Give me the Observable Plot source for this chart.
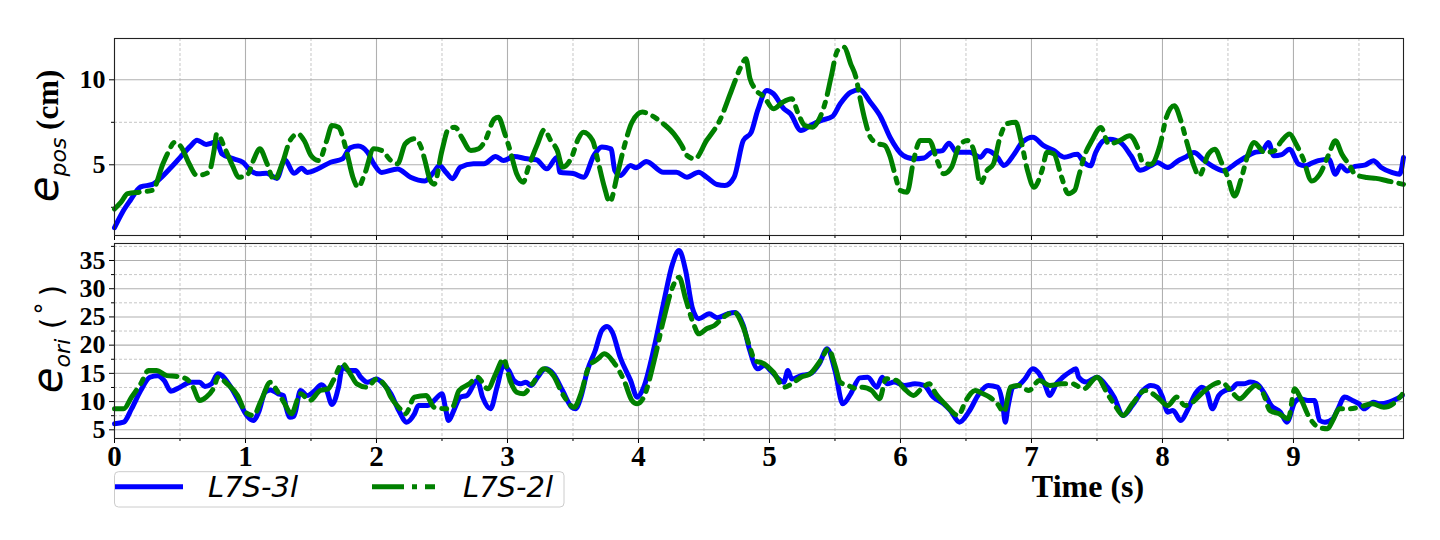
<!DOCTYPE html>
<html>
<head>
<meta charset="utf-8">
<script src="https://cdn.jsdelivr.net/npm/d3@7"></script>
<script src="https://cdn.jsdelivr.net/npm/@observablehq/plot@0.6"></script>
<style>
  html, body { margin: 0; padding: 0; background: #ffffff; }
  #wrap { position: relative; width: 1440px; height: 540px; overflow: hidden; }
  #top { position: absolute; left: 0; top: 0; }
  #bot { position: absolute; left: 0; top: 240px; }
  svg { overflow: visible; }
</style>
</head>
<body>
<div id="wrap"><div id="top"></div><div id="bot"></div></div>
<script>
// ---------- data: [time (s), value] ----------
const seriesNames = ["L7S-3l", "L7S-2l"];
const xMajorTicks = [0, 1, 2, 3, 4, 5, 6, 7, 8, 9];
const xMinorTicks = [0.5, 1.5, 2.5, 3.5, 4.5, 5.5, 6.5, 7.5, 8.5, 9.5];
const posMajorTicks = [5, 10];
const posMinorTicks = [2.5, 7.5];
const oriMajorTicks = [5, 10, 15, 20, 25, 30, 35];
const oriMinorTicks = [7.5, 12.5, 17.5, 22.5, 27.5, 32.5, 37.5];

const pos3l = [[0,1.3],[0.06,2.2],[0.12,2.9],[0.2,3.7],[0.29,3.85],[0.35,4.2],[0.42,4.75],[0.48,5.25],[0.58,6.1],[0.63,6.45],[0.7,6.2],[0.78,6.35],[0.82,5.65],[0.91,5.35],[0.98,5.15],[1.04,4.65],[1.1,4.47],[1.16,4.5],[1.24,4.2],[1.3,5.3],[1.37,4.5],[1.43,4.8],[1.47,4.55],[1.55,4.75],[1.65,5.15],[1.74,5.35],[1.8,6.0],[1.86,6.1],[1.93,5.75],[1.98,5.05],[2.04,4.55],[2.16,4.75],[2.26,4.27],[2.37,4.05],[2.44,4.6],[2.48,4.96],[2.53,4.56],[2.58,4.18],[2.64,4.86],[2.74,5.06],[2.82,5.06],[2.91,5.49],[2.97,5.25],[3.05,5.49],[3.15,5.35],[3.22,5.3],[3.3,4.76],[3.38,5.45],[3.4,4.56],[3.51,4.47],[3.58,4.27],[3.66,5.55],[3.72,6.04],[3.79,5.94],[3.82,4.66],[3.86,4.37],[3.94,4.96],[3.98,4.82],[4.06,5.19],[4.19,4.56],[4.29,4.56],[4.37,4.27],[4.46,4.56],[4.52,4.27],[4.6,3.84],[4.66,3.78],[4.73,4.27],[4.8,6.43],[4.86,6.9],[4.91,8.2],[4.98,9.37],[5.03,9.18],[5.11,8.29],[5.16,8.0],[5.24,7.02],[5.31,7.3],[5.39,7.6],[5.48,7.84],[5.54,8.59],[5.62,9.27],[5.69,9.41],[5.77,8.68],[5.85,7.8],[5.92,6.62],[6.02,5.55],[6.1,5.35],[6.18,5.4],[6.24,5.74],[6.32,5.84],[6.37,6.27],[6.43,5.74],[6.53,5.74],[6.61,5.45],[6.66,5.84],[6.74,5.45],[6.79,4.96],[6.87,5.65],[6.93,6.33],[7.01,6.62],[7.09,6.14],[7.17,5.84],[7.25,5.45],[7.33,5.6],[7.35,5.62],[7.4,5.14],[7.45,4.94],[7.49,5.72],[7.55,6.41],[7.6,6.51],[7.68,6.31],[7.76,5.53],[7.83,4.68],[7.91,4.94],[7.96,5.14],[8.04,4.84],[8.12,5.24],[8.17,5.43],[8.24,5.72],[8.32,5.24],[8.4,4.84],[8.47,4.64],[8.55,5.03],[8.63,5.43],[8.7,5.72],[8.76,5.8],[8.81,6.31],[8.85,5.53],[8.91,5.6],[8.97,5.92],[9.04,5.03],[9.09,4.94],[9.14,5.1],[9.19,5.24],[9.27,5.33],[9.32,4.44],[9.36,4.94],[9.41,4.64],[9.47,4.9],[9.55,5.0],[9.61,5.24],[9.67,4.84],[9.75,4.55],[9.81,4.44],[9.84,5.43]];

const pos2l = [[0,2.4],[0.05,2.8],[0.1,3.3],[0.2,3.4],[0.29,3.5],[0.37,5.06],[0.41,5.74],[0.46,6.33],[0.51,6.04],[0.57,5.06],[0.63,4.37],[0.72,4.56],[0.76,5.84],[0.78,6.82],[0.85,5.84],[0.9,4.96],[0.95,4.27],[1.02,4.47],[1.06,5.25],[1.11,5.94],[1.16,5.15],[1.22,4.1],[1.28,5.06],[1.34,6.43],[1.4,6.82],[1.45,6.4],[1.5,5.55],[1.56,5.25],[1.62,6.43],[1.66,7.31],[1.71,7.21],[1.77,5.84],[1.82,4.27],[1.86,3.68],[1.91,4.47],[1.98,5.94],[2.04,5.84],[2.11,5.25],[2.16,5.06],[2.22,6.24],[2.29,6.53],[2.34,6.04],[2.37,5.25],[2.41,4.08],[2.44,3.86],[2.5,5.84],[2.55,7.12],[2.6,7.21],[2.65,6.62],[2.72,5.84],[2.78,5.94],[2.83,6.43],[2.9,7.7],[2.93,7.8],[2.98,6.82],[3.02,5.84],[3.07,4.47],[3.12,3.98],[3.16,4.86],[3.23,6.24],[3.28,7.06],[3.33,6.43],[3.38,5.84],[3.42,4.86],[3.49,5.45],[3.54,6.53],[3.58,6.92],[3.65,6.43],[3.69,5.25],[3.74,3.68],[3.78,2.8],[3.84,4.47],[3.89,6.04],[3.95,7.5],[4.03,8.1],[4.1,7.9],[4.19,7.41],[4.27,6.82],[4.33,6.14],[4.37,5.55],[4.43,5.35],[4.52,6.43],[4.62,7.6],[4.71,9.37],[4.78,10.74],[4.82,11.24],[4.85,10.1],[4.89,9.47],[4.96,8.98],[5.03,8.29],[5.1,8.68],[5.17,8.88],[5.22,8.0],[5.27,7.31],[5.33,7.21],[5.38,7.7],[5.43,8.78],[5.47,10.15],[5.52,11.72],[5.57,11.92],[5.62,10.94],[5.66,10.15],[5.69,8.98],[5.73,7.6],[5.77,6.62],[5.83,6.24],[5.88,6.14],[5.92,5.5],[5.95,4.66],[6.0,3.49],[6.05,3.39],[6.1,5.25],[6.15,6.43],[6.22,6.43],[6.28,5.25],[6.33,4.47],[6.39,4.86],[6.45,6.14],[6.51,6.43],[6.56,5.84],[6.61,3.88],[6.66,4.66],[6.71,5.06],[6.76,6.62],[6.81,7.41],[6.88,7.5],[6.92,6.43],[6.97,4.66],[7.02,3.68],[7.08,4.66],[7.12,5.74],[7.17,5.65],[7.23,4.27],[7.28,3.3],[7.33,3.5],[7.36,4.3],[7.4,5.43],[7.46,6.41],[7.53,7.2],[7.59,6.22],[7.67,6.41],[7.75,6.71],[7.81,6.02],[7.85,5.14],[7.91,5.03],[7.98,6.12],[8.03,7.8],[8.09,8.48],[8.14,7.6],[8.19,6.22],[8.24,4.94],[8.28,4.35],[8.35,5.62],[8.4,5.92],[8.45,5.14],[8.5,4.25],[8.55,3.16],[8.6,4.15],[8.65,5.53],[8.7,6.31],[8.78,5.72],[8.85,5.8],[8.91,6.41],[8.97,6.81],[9.02,6.22],[9.07,5.43],[9.14,4.05],[9.2,4.44],[9.27,5.62],[9.32,6.41],[9.37,5.62],[9.43,4.94],[9.47,4.44],[9.56,4.25],[9.63,4.2],[9.72,4.05],[9.84,3.85]];

const ori3l = [[0,6.06],[0.07,6.35],[0.13,8.7],[0.2,11.96],[0.27,14.3],[0.33,14.6],[0.38,13.7],[0.43,11.84],[0.5,12.55],[0.58,13.43],[0.65,13.43],[0.69,12.67],[0.74,13.15],[0.79,14.92],[0.82,14.6],[0.88,12.85],[0.96,9.6],[1.01,7.53],[1.06,6.65],[1.1,8.12],[1.15,11.66],[1.19,12.07],[1.25,11.38],[1.29,11.08],[1.31,9.0],[1.34,7.23],[1.37,7.4],[1.42,11.96],[1.47,11.08],[1.53,11.96],[1.58,13.0],[1.62,11.96],[1.66,9.48],[1.71,12.55],[1.74,16.1],[1.79,15.5],[1.84,15.5],[1.88,14.3],[1.93,13.43],[2.0,14.0],[2.05,13.2],[2.11,11.38],[2.17,8.42],[2.23,6.35],[2.29,7.83],[2.32,9.3],[2.39,9.3],[2.44,10.2],[2.5,11.38],[2.53,8.42],[2.55,6.65],[2.59,8.42],[2.64,10.78],[2.69,11.08],[2.77,13.73],[2.81,10.78],[2.87,8.72],[2.92,12.55],[2.97,16.4],[3.01,15.5],[3.05,13.73],[3.1,13.15],[3.14,13.43],[3.18,12.85],[3.23,14.32],[3.29,15.8],[3.35,14.92],[3.42,11.96],[3.49,9.0],[3.52,8.72],[3.56,10.78],[3.61,15.5],[3.67,19.05],[3.72,22.6],[3.76,23.3],[3.8,22.3],[3.86,17.86],[3.94,13.73],[3.99,10.78],[4.04,12.55],[4.12,19.64],[4.19,27.3],[4.26,34.4],[4.31,36.77],[4.36,33.2],[4.41,26.7],[4.46,24.67],[4.54,25.55],[4.6,24.85],[4.68,25.55],[4.74,25.8],[4.8,23.5],[4.85,19.05],[4.91,15.8],[4.96,16.4],[5.02,15.2],[5.07,14.0],[5.11,13.43],[5.14,15.5],[5.17,14.0],[5.24,14.6],[5.31,14.92],[5.38,16.7],[5.44,19.35],[5.5,15.5],[5.56,9.6],[5.62,11.38],[5.69,14.2],[5.75,14.3],[5.82,12.56],[5.86,14.3],[5.9,13.15],[5.95,13.45],[6.03,12.86],[6.11,13.15],[6.18,12.86],[6.25,10.8],[6.33,9.6],[6.38,8.43],[6.45,6.36],[6.52,8.13],[6.6,11.38],[6.67,12.86],[6.74,12.56],[6.78,9.6],[6.8,6.36],[6.82,9.0],[6.86,12.56],[6.9,12.86],[6.95,14.04],[7.01,15.8],[7.05,15.2],[7.1,13.15],[7.14,11.08],[7.19,13.15],[7.24,14.33],[7.29,15.2],[7.34,15.8],[7.36,14.33],[7.42,13.45],[7.5,14.33],[7.58,12.56],[7.63,10.8],[7.7,7.54],[7.77,9.3],[7.85,11.97],[7.91,12.86],[7.96,12.56],[8.0,10.8],[8.04,8.13],[8.08,8.43],[8.14,6.65],[8.19,8.43],[8.25,11.38],[8.3,12.56],[8.34,11.67],[8.38,8.72],[8.43,11.08],[8.48,11.97],[8.53,12.27],[8.57,13.15],[8.62,13.15],[8.67,13.45],[8.72,13.15],[8.78,11.38],[8.83,9.3],[8.9,8.13],[8.95,6.36],[9.01,9.9],[9.05,10.5],[9.11,10.2],[9.16,10.2],[9.2,6.65],[9.24,6.36],[9.3,6.95],[9.34,8.72],[9.39,10.8],[9.45,10.2],[9.5,9.6],[9.54,8.72],[9.61,9.9],[9.66,9.6],[9.73,9.9],[9.79,10.5],[9.83,11.08]];

const ori2l = [[0,8.72],[0.07,8.72],[0.13,10.78],[0.2,13.15],[0.26,15.5],[0.32,15.5],[0.4,14.6],[0.48,14.45],[0.55,14.0],[0.6,12.55],[0.65,10.2],[0.7,10.78],[0.76,12.55],[0.79,14.32],[0.86,13.15],[0.94,11.08],[1.0,8.13],[1.06,7.53],[1.12,10.2],[1.19,13.43],[1.24,11.96],[1.3,9.6],[1.35,7.83],[1.42,11.38],[1.49,10.2],[1.57,11.96],[1.63,12.26],[1.67,13.73],[1.74,16.7],[1.8,14.92],[1.85,13.15],[1.93,12.55],[2.0,14.0],[2.08,12.26],[2.11,10.78],[2.18,8.72],[2.22,7.83],[2.29,10.78],[2.38,11.08],[2.44,9.0],[2.53,8.72],[2.58,9.0],[2.63,11.96],[2.71,13.15],[2.77,14.32],[2.85,12.26],[2.91,14.92],[2.97,17.57],[3.02,13.73],[3.07,11.66],[3.12,11.38],[3.19,13.15],[3.28,15.8],[3.35,14.6],[3.42,11.38],[3.51,9.0],[3.56,11.38],[3.62,16.1],[3.69,17.57],[3.74,18.47],[3.81,16.98],[3.89,13.73],[3.95,10.2],[3.99,9.6],[4.04,10.78],[4.12,17.28],[4.19,24.37],[4.26,30.27],[4.31,32.04],[4.36,28.2],[4.42,23.78],[4.46,22.0],[4.52,22.9],[4.58,23.48],[4.65,24.96],[4.73,25.84],[4.8,23.18],[4.85,19.64],[4.89,17.28],[4.96,16.69],[5.03,15.2],[5.11,12.55],[5.17,13.15],[5.24,14.32],[5.31,14.92],[5.39,17.28],[5.45,19.35],[5.5,16.39],[5.54,13.43],[5.6,12.85],[5.67,12.26],[5.71,12.55],[5.78,11.97],[5.84,10.5],[5.89,14.04],[5.97,13.74],[6.03,12.27],[6.1,11.08],[6.16,12.27],[6.22,13.15],[6.27,11.38],[6.35,9.3],[6.44,7.54],[6.5,10.2],[6.57,11.97],[6.63,11.38],[6.68,10.8],[6.74,9.6],[6.79,8.13],[6.84,12.56],[6.9,12.86],[6.98,11.97],[7.06,13.74],[7.14,12.86],[7.23,13.15],[7.31,13.15],[7.4,12.27],[7.5,14.33],[7.58,11.38],[7.63,9.6],[7.7,7.54],[7.77,9.6],[7.87,11.97],[7.96,10.8],[8.04,9.3],[8.11,10.8],[8.17,9.3],[8.23,9.9],[8.31,11.67],[8.4,13.15],[8.45,13.45],[8.52,11.97],[8.59,10.5],[8.66,11.97],[8.71,12.86],[8.77,11.38],[8.82,8.43],[8.89,7.84],[8.96,6.95],[9.01,12.27],[9.05,10.8],[9.12,7.25],[9.19,5.47],[9.26,5.18],[9.3,6.65],[9.35,8.72],[9.42,8.72],[9.5,9.0],[9.6,9.6],[9.69,9.0],[9.76,9.6],[9.83,11.26]];

// ---------- styling ----------
const BLUE = "#0000ff", GREEN = "#008000";
const LW = 5;
const DASHDOT = "32,8,5,8";
const SERIF = "'Liberation Serif', 'Times New Roman', serif";
const SANS = "'DejaVu Sans', sans-serif";
const X_DOMAIN = [0, 9.84];
const X_TICK_FONT = 29;
const Y_TICK_FONT = 26;

function gridMarks(yMajor, yMinor) {
  return [
    Plot.gridX(xMinorTicks, {stroke: "#b8b8b8", strokeOpacity: 1, strokeWidth: 0.8, strokeDasharray: "3,2"}),
    Plot.gridY(yMinor, {stroke: "#b8b8b8", strokeOpacity: 1, strokeWidth: 0.8, strokeDasharray: "3,2"}),
    Plot.gridX(xMajorTicks, {stroke: "#b0b0b0", strokeOpacity: 1, strokeWidth: 1.1}),
    Plot.gridY(yMajor, {stroke: "#b0b0b0", strokeOpacity: 1, strokeWidth: 1.1})
  ];
}
function lineMarks(blueData, greenData) {
  return [
    Plot.line(blueData, {x: d => d[0], y: d => d[1], stroke: BLUE, strokeWidth: LW, curve: "monotone-x", strokeLinejoin: "round"}),
    Plot.line(greenData, {x: d => d[0], y: d => d[1], stroke: GREEN, strokeWidth: LW, curve: "monotone-x", strokeDasharray: DASHDOT})
  ];
}

const topChart = Plot.plot({
  width: 1440, height: 240,
  marginLeft: 114, marginRight: 37, marginTop: 38, marginBottom: 5,
  x: {domain: X_DOMAIN},
  y: {domain: [0.84, 12.43]},
  style: {fontFamily: SERIF, background: "transparent", color: "black"},
  marks: [
    ...gridMarks(posMajorTicks, posMinorTicks),
    Plot.axisY(posMajorTicks, {tickSize: 5, tickPadding: 4, fontSize: Y_TICK_FONT, fontWeight: "bold", label: null, tickFormat: d => d}),
    Plot.axisY(posMinorTicks, {tickSize: 3, fill: "none", label: null}),
    Plot.axisX(xMajorTicks, {tickSize: 5, fill: "none", label: null}),
    Plot.axisX(xMinorTicks, {tickSize: 3, fill: "none", label: null}),
    ...lineMarks(pos3l, pos2l),
    Plot.frame({stroke: "#222", strokeWidth: 1.1})
  ]
});

const botChart = Plot.plot({
  width: 1440, height: 300,
  marginLeft: 114, marginRight: 37, marginTop: 3, marginBottom: 102,
  x: {domain: X_DOMAIN},
  y: {domain: [3.46, 38.01]},
  style: {fontFamily: SERIF, background: "transparent", color: "black"},
  marks: [
    ...gridMarks(oriMajorTicks, oriMinorTicks.filter(v => v < 38)),
    Plot.axisY(oriMajorTicks, {tickSize: 5, tickPadding: 4, fontSize: Y_TICK_FONT, fontWeight: "bold", label: null, tickFormat: d => d}),
    Plot.axisY(oriMinorTicks.filter(v => v < 38), {tickSize: 3, fill: "none", label: null}),
    Plot.axisX(xMajorTicks, {tickSize: 5, tickPadding: 2, fontSize: X_TICK_FONT, fontWeight: "bold", label: null, tickFormat: d => d}),
    Plot.axisX(xMinorTicks, {tickSize: 3, fill: "none", label: null}),
    ...lineMarks(ori3l, ori2l),
    Plot.frame({stroke: "#222", strokeWidth: 1.1})
  ]
});

document.getElementById("top").appendChild(topChart);
document.getElementById("bot").appendChild(botChart);

// ---------- y labels (rotated, with subscripts) ----------
function yLabel(svgNode, x, y, sub, tail) {
  const t = d3.select(svgNode).append("text")
    .attr("transform", `translate(${x},${y}) rotate(-90)`)
    .attr("text-anchor", "middle")
    .attr("fill", "black");
  t.append("tspan").attr("font-family", SANS).attr("font-style", "italic").attr("font-size", 42).text("e");
  t.append("tspan").attr("font-family", SANS).attr("font-style", "italic").attr("font-size", 22).attr("dy", 8).text(sub);
  tail(t);
}
yLabel(topChart, 58, 136, "pos", t => {
  t.append("tspan").attr("font-family", SERIF).attr("font-weight", "bold").attr("font-size", 31).attr("dy", -8).text("\u00a0(cm)");
});
yLabel(botChart, 62, 99, "ori", t => {
  t.append("tspan").attr("font-family", SANS).attr("font-size", 30).attr("dy", -8).text("\u00a0(");
  t.append("tspan").attr("font-family", SANS).attr("font-size", 24).attr("dy", -9).attr("dx", 3).text("\u00b0");
  t.append("tspan").attr("font-family", SANS).attr("font-size", 30).attr("dy", 9).attr("dx", 6).text(")");
});

// ---------- x label ----------
d3.select(botChart).append("text")
  .attr("x", 1088).attr("y", 257)
  .attr("text-anchor", "middle")
  .attr("font-family", SERIF).attr("font-weight", "bold").attr("font-size", 32)
  .attr("fill", "black")
  .text("Time (s)");

// ---------- legend ----------
const lg = d3.select(botChart).append("g").attr("text-anchor", "start");
lg.append("rect").attr("x", 114.5).attr("y", 231.7).attr("width", 449.5).attr("height", 35.3)
  .attr("rx", 4).attr("fill", "white").attr("fill-opacity", 0.8).attr("stroke", "#cccccc").attr("stroke-width", 1);
const legendItems = [
  {name: seriesNames[0], color: BLUE, dash: null, x1: 115, x2: 183, tx: 208},
  {name: seriesNames[1], color: GREEN, dash: DASHDOT, x1: 372, x2: 435, tx: 463}
];
for (const it of legendItems) {
  const l = lg.append("line").attr("x1", it.x1).attr("x2", it.x2).attr("y1", 246.7).attr("y2", 246.7)
    .attr("stroke", it.color).attr("stroke-width", LW);
  if (it.dash) l.attr("stroke-dasharray", it.dash);
  lg.append("text").attr("x", it.tx).attr("y", 257).attr("text-anchor", "start")
    .attr("font-family", SANS).attr("font-style", "italic").attr("font-size", 29)
    .attr("fill", "black").text(it.name);
}
</script>
</body>
</html>
